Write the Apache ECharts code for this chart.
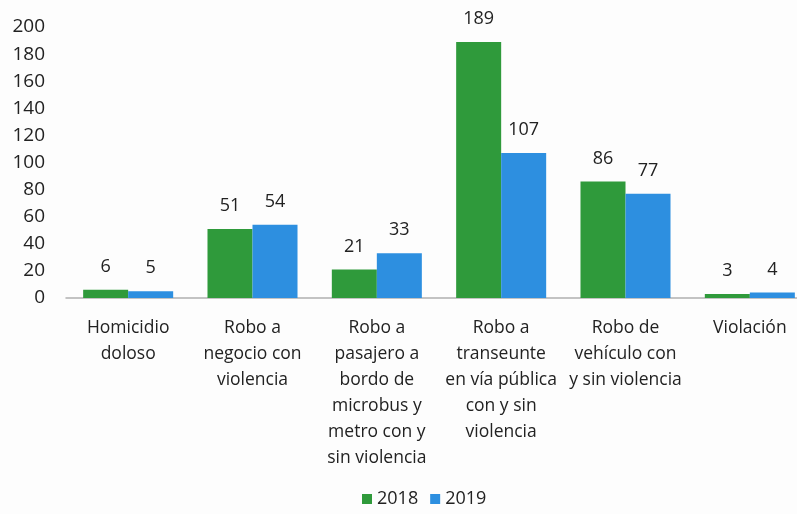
<!DOCTYPE html>
<html><head><meta charset="utf-8">
<script src="https://cdn.jsdelivr.net/npm/echarts@6/dist/echarts.min.js"></script>
<style>html,body{margin:0;padding:0;background:#fdfdfd}#c{width:797px;height:514px}</style>
</head><body><div id="c"></div>
<script>
const categories = ["Homicidio\ndoloso", "Robo a\nnegocio con\nviolencia", "Robo a\npasajero a\nbordo de\nmicrobus y\nmetro con y\nsin violencia", "Robo a\ntranseunte\nen vía pública\ncon y sin\nviolencia", "Robo de\nvehículo con\ny sin violencia", "Violación"];
const values2018 = [6, 51, 21, 189, 86, 3];
const values2019 = [5, 54, 33, 107, 77, 4];
const yTicks = [0, 20, 40, 60, 80, 100, 120, 140, 160, 180, 200];

const font = "'Open Sans', 'Liberation Sans', sans-serif";
const chart = echarts.init(document.getElementById('c'));
chart.setOption({
  backgroundColor: '#fdfdfd',
  animation: false,
  textStyle: {fontFamily: font},
  grid: {left: 66, width: 746, top: 27, bottom: 216, outerBoundsMode: 'none', containLabel: false},
  legend: {
    bottom: 1, left: 357, itemWidth: 10, itemHeight: 10, itemGap: 12,
    icon: 'rect',
    textStyle: {fontSize: 18, color: '#222', fontFamily: font},
    data: ['2018', '2019']
  },
  xAxis: {
    type: 'category', data: categories,
    axisLine: {lineStyle: {color: '#b0b0b0', width: 1.5}},
    axisTick: {show: false},
    axisLabel: {interval: 0, fontSize: 17.5, color: '#222', lineHeight: 26, margin: 17, fontFamily: font}
  },
  yAxis: {
    type: 'value', min: 0, max: 200, interval: 20,
    axisLine: {show: false}, axisTick: {show: false}, splitLine: {show: false},
    axisLabel: {fontSize: 19, color: '#222', margin: 21, fontFamily: font}
  },
  series: [
    {name: '2018', type: 'bar', data: values2018, barGap: '0%', barCategoryGap: '27.6%',
     itemStyle: {color: '#2f9a3b'},
     label: {show: true, position: 'top', distance: 14, fontSize: 18, color: '#222', fontFamily: font}},
    {name: '2019', type: 'bar', data: values2019,
     itemStyle: {color: '#2d8fe0'},
     label: {show: true, position: 'top', distance: 14, fontSize: 18, color: '#222', fontFamily: font}}
  ]
});
</script></body></html>
